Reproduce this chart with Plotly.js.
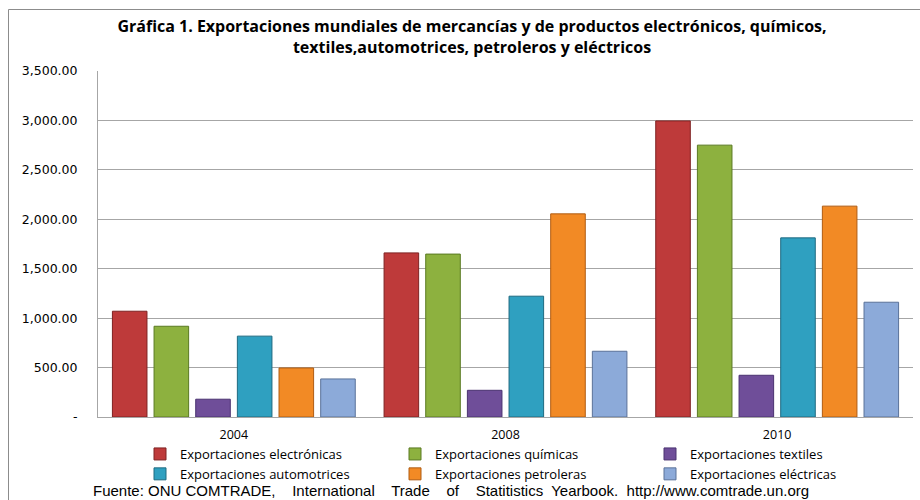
<!DOCTYPE html>
<html>
<head>
<meta charset="utf-8">
<script src="https://cdn.plot.ly/plotly-3.0.1.min.js"></script>
<style>
html,body{margin:0;padding:0;background:#fff;}
#chart{width:920px;height:500px;}
</style>
</head>
<body>
<div id="chart"></div>
<script>
const years = ["2004", "2008", "2010"];
const seriesNames = [
  "Exportaciones electrónicas",
  "Exportaciones químicas",
  "Exportaciones textiles",
  "Exportaciones automotrices",
  "Exportaciones petroleras",
  "Exportaciones eléctricas"
];
const electronicas = [1070, 1660, 2995];
const quimicas = [918, 1648, 2750];
const textiles = [180, 270, 422];
const automotrices = [818, 1222, 1812];
const petroleras = [496, 2055, 2133];
const electricas = [385, 665, 1161];
const yTickVals = [0, 500, 1000, 1500, 2000, 2500, 3000, 3500];
const yTickText = ["-", "500.00", "1,000.00", "1,500.00", "2,000.00", "2,500.00", "3,000.00", "3,500.00"];

const values = [electronicas, quimicas, textiles, automotrices, petroleras, electricas];
const fills = ["#BE3A3A", "#8DB13F", "#6F4E99", "#2FA0C0", "#F28A25", "#8CAAD9"];
const lines = ["#7F2222", "#5A7A22", "#4A3270", "#1E6A80", "#B05C12", "#5A7299"];

const data = values.map((v, i) => ({
  type: "bar",
  name: seriesNames[i],
  x: years,
  y: v,
  marker: {color: fills[i], line: {color: lines[i], width: 1}},
  hoverinfo: "name+y"
}));

const W = 815, H = 346;
const layout = {
  width: 920,
  height: 500,
  paper_bgcolor: "#ffffff",
  plot_bgcolor: "#ffffff",
  margin: {l: 98, r: 7, t: 71, b: 83, autoexpand: false},
  barmode: "group",
  bargap: 0.08,
  bargroupgap: 0.17,
  title: {
    text: "<b>Gráfica 1. Exportaciones mundiales de mercancías y de productos electrónicos, químicos,<br>textiles,automotrices, petroleros y eléctricos</b>",
    font: {family: "Open Sans, sans-serif", size: 16, color: "#000"},
    x: 472/920, xanchor: "center", xref: "container",
    y: 1 - 32/500, yanchor: "top", yref: "container"
  },
  xaxis: {
    type: "category",
    showline: true, linecolor: "#a6a6a6", linewidth: 1,
    showgrid: false,
    ticks: "outside", ticklen: 6, tickcolor: "rgba(0,0,0,0)",
    tickfont: {family: "Open Sans, sans-serif", size: 12.5, color: "#000"},
    fixedrange: true
  },
  yaxis: {
    range: [0, 3500],
    tickvals: yTickVals,
    ticktext: yTickText,
    showline: true, linecolor: "#a6a6a6", linewidth: 1,
    showgrid: true, gridcolor: "#a6a6a6", gridwidth: 1,
    zeroline: false,
    ticks: "outside", ticklen: 17, tickcolor: "rgba(0,0,0,0)",
    tickfont: {family: "DejaVu Sans, sans-serif", size: 12.5, color: "#000"},
    fixedrange: true
  },
  showlegend: true,
  legend: {
    orientation: "h",
    x: (140 - 98) / W, xanchor: "left",
    y: (417 - 439) / H, yanchor: "top",
    entrywidth: 210, entrywidthmode: "pixels",
    font: {family: "Open Sans, sans-serif", size: 13, color: "#000"},
    tracegroupgap: 0,
    bgcolor: "rgba(0,0,0,0)"
  },
  shapes: [{
    type: "rect", xref: "paper", yref: "paper",
    x0: (8.5 - 98) / W, x1: 1.2,
    y0: -0.5, y1: 1 + (71 - 9.5) / H,
    line: {color: "#8c8c8c", width: 1},
    fillcolor: "rgba(0,0,0,0)",
    layer: "below"
  }],
  annotations: [{
    text: "Fuente: ONU COMTRADE,    International    Trade    of    Statitistics  Yearbook.  http://www.comtrade.un.org",
    xref: "paper", yref: "paper",
    x: (91 - 98) / W, xanchor: "left",
    y: (417 - 490) / H, yanchor: "middle",
    showarrow: false,
    font: {family: "Liberation Sans, Arial, sans-serif", size: 15, color: "#000"}
  }]
};

Plotly.newPlot("chart", data, layout, {displayModeBar: false});
</script>
</body>
</html>
